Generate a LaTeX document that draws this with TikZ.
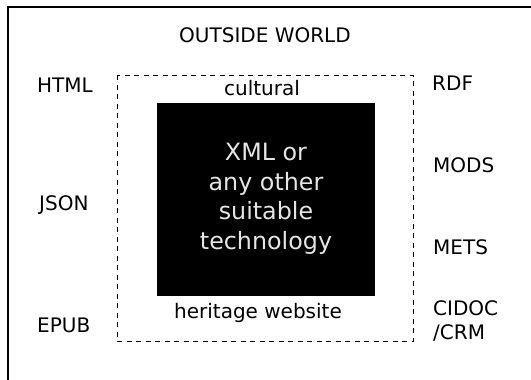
\documentclass[tikz,border=0pt]{standalone}
\usepackage{fontspec}
\setmainfont{DejaVu Sans}
\begin{document}
\begin{tikzpicture}[x=1pt,y=1pt,
  lbl/.style={inner sep=0pt, font=\fontsize{20}{23.5}\selectfont},
  techbox/.style={fill=black, draw=black},
  frame/.style={line width=1.3pt, line cap=rect},
  dashbox/.style={line width=0.9pt, dash pattern=on 5pt off 4.5pt}]
\useasboundingbox (0,0) rectangle (531,-380);
\fill[white] (0,0) rectangle (531,-380);
% outer frame
\coordinate (fb) at (8,-380);
\coordinate (ftl) at (8,-7);
\coordinate (ftr) at (531,-7);
\draw[frame] (fb) -- (ftl) -- (ftr);
% dashed box
\coordinate (d1) at (117,-75);
\coordinate (d2) at (413,-341);
\draw[dashbox] (d1) rectangle (d2);
% black box
\coordinate (b1) at (157,-103);
\coordinate (b2) at (374,-295);
\fill[techbox] (b1) rectangle (b2);
\node[inner sep=0pt, align=center, text=black!10, font=\fontsize{23.8}{29.5}\selectfont] (tech) at (266,-199) {XML or\\any other\\suitable\\technology};
% labels
\node[lbl] (ow) at (265,-35) {OUTSIDE WORLD};
\node[lbl] (cult) at (262,-88) {cultural};
\node[lbl] (herit) at (258,-313) {heritage website};
\node[lbl, anchor=west] (html) at (37,-85) {HTML};
\node[lbl, anchor=west] (json) at (39,-205) {JSON};
\node[lbl, anchor=west] (epub) at (37,-325) {EPUB};
\node[lbl, anchor=west] (rdf) at (432,-83) {RDF};
\node[lbl, anchor=west] (mods) at (433,-165) {MODS};
\node[lbl, anchor=west] (mets) at (433,-247) {METS};
\node[lbl, anchor=west, align=left, font=\fontsize{20}{24}\selectfont] (cidoc) at (433,-321) {CIDOC\\/CRM};
\end{tikzpicture}
\end{document}
